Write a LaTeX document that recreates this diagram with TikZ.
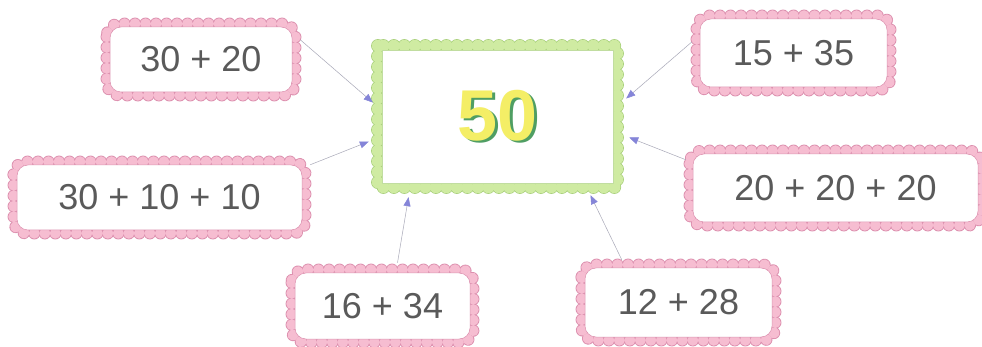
\documentclass[tikz,border=0pt]{standalone}
\usepackage{fontspec}
\setmainfont{Liberation Sans}
\usetikzlibrary{arrows.meta,decorations.markings,backgrounds}

\definecolor{bandpink}{HTML}{F6BDD1}
\definecolor{edgepink}{HTML}{DC8FAE}
\definecolor{bandgreen}{HTML}{CFEBA2}
\definecolor{edgegreen}{HTML}{A6CF78}
\definecolor{numgray}{HTML}{5A5A5A}
\definecolor{tipblue}{HTML}{8585D8}
\definecolor{linegray}{HTML}{A8A8B8}
\definecolor{sunyellow}{HTML}{F4EE66}
\definecolor{shadowgreen}{HTML}{4F9E63}

% scalloped frame round a node: #1 node, #2 fill, #3 edge, #4 corner radius,
% #5 offset of the bump centres, #6 bump radius
\newcommand\scallopframe[6]{%
  \path[rounded corners=#4,
    postaction={decorate, decoration={markings,
      mark=between positions 0 and 1 step 10.5pt with {\fill[#3] (0,0) circle (#6+0.7pt);}}},
    postaction={decorate, decoration={markings,
      mark=between positions 0 and 1 step 10.5pt with {\fill[#2] (0,0) circle (#6);}}}]
    ([shift={(-#5,-#5)}]#1.north west) rectangle ([shift={(#5,#5)}]#1.south east);
}

\begin{document}
\begin{tikzpicture}[x=1pt,y=-1pt,
  sumbox/.style={draw=edgepink, line width=0.5pt, fill=white, rounded corners=11pt,
    inner sep=0pt, text=numgray, font=\fontsize{36}{40}\selectfont},
  goalbox/.style={draw=edgegreen!70, line width=0.4pt, fill=white, inner sep=0pt,
    font=\fontsize{72}{80}\selectfont\bfseries},
  conn/.style={draw=linegray, line width=0.5pt,
    -{Triangle[length=9pt,width=7pt,color=tipblue]}}]

\useasboundingbox (0,0) rectangle (982,347);

% target number
\node[goalbox, minimum width=231pt, minimum height=133pt] (G) at (497.5,116.5)
  {\makebox[0pt][l]{\hspace{3pt}\raisebox{-2.5pt}{\color{shadowgreen}50}}\color{sunyellow}50};

% sums
\node[sumbox, minimum width=182pt, minimum height=65pt] (A) at (201,59.5) {30 + 20};
\node[sumbox, minimum width=285pt, minimum height=65pt] (B) at (159.5,197.5) {30 + 10 + 10};
\node[sumbox, minimum width=175pt, minimum height=66pt] (C) at (382.5,306) {16 + 34};
\node[sumbox, minimum width=187pt, minimum height=68pt] (D) at (793.5,53) {15 + 35};
\node[sumbox, minimum width=285pt, minimum height=68pt] (E) at (835.5,188) {20 + 20 + 20};
\node[sumbox, minimum width=187pt, minimum height=69pt] (F) at (678.5,302.5) {12 + 28};

% frames behind the boxes
\begin{pgfonlayer}{background}
  \fill[white] (0,0) rectangle (982,347);
  \scallopframe{G}{bandgreen}{edgegreen}{0pt}{4}{6pt}
  \foreach \n in {A,B,C,D,E,F}{\scallopframe{\n}{bandpink}{edgepink}{13pt}{3}{5.5pt}}
\end{pgfonlayer}

% connectors
\draw[conn] ([shift={(8,13)}]A.north east) -- ([shift={(-9,-14)}]G.west);
\draw[conn] ([shift={(8,0)}]B.north east) -- ([shift={(-13,25)}]G.west);
\draw[conn] ([shift={(15,-10)}]C.north) -- ([shift={(-89,14)}]G.south);
\draw[conn] ([shift={(-8,-11)}]D.west) -- ([shift={(13,-18)}]G.east);
\draw[conn] ([shift={(-7,6)}]E.north west) -- ([shift={(16,21)}]G.east);
\draw[conn] ([shift={(37,-8)}]F.north west) -- ([shift={(93,12)}]G.south);
\end{tikzpicture}
\end{document}
